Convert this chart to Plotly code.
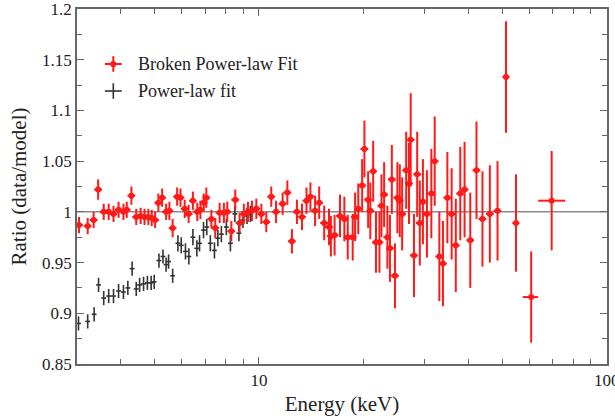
import math
import plotly.graph_objects as go

# ---------------- data ----------------
# Broken power-law fit residuals (red)
red_energy = [3.04, 3.22, 3.35, 3.45, 3.58, 3.70, 3.82, 3.95, 4.08, 4.17,
              4.30, 4.44, 4.57, 4.69, 4.81, 4.92, 5.03, 5.14, 5.27, 5.41,
              5.53, 5.65, 5.82, 5.95, 6.12, 6.28, 6.46, 6.65, 6.79, 6.94,
              7.06, 7.30, 7.49, 7.71, 7.93, 8.11, 8.33, 8.55, 8.80, 9.05,
              9.30, 9.55, 9.83, 10.16, 10.5, 10.85, 11.2, 11.7, 12.07, 12.44,
              12.86, 13.3, 13.7, 14.06, 14.5, 14.9, 15.4, 15.9, 16.1, 16.5,
              17.1, 17.6, 18.0, 18.6, 18.9, 19.3, 19.8, 20.1, 20.6, 20.9,
              21.3, 21.7, 22.2, 22.5, 22.9, 23.4, 23.8, 24.1, 24.6, 25.0,
              25.4, 25.8, 26.5, 27.0, 27.3, 27.9, 28.5, 29.0, 29.6, 30.4,
              31.3, 32.0, 33.0, 33.8, 34.8, 35.8, 36.8, 37.9, 39.0, 40.5,
              42.2, 43.9, 46.1, 48.5]
red_ratio = [0.987, 0.986, 0.992, 1.022, 1.000, 1.000, 0.998, 1.002, 1.000, 1.002,
             1.016, 0.995, 0.996, 0.995, 0.995, 0.994, 0.992, 1.009, 1.014, 1.000,
             1.001, 0.984, 1.015, 1.014, 1.003, 0.998, 1.011, 1.000, 1.002, 1.009,
             1.014, 0.993, 0.984, 0.999, 0.999, 1.000, 0.981, 1.012, 0.989, 0.998,
             1.000, 1.001, 1.003, 0.998, 0.990, 1.015, 1.000, 1.008, 1.019, 0.971,
             1.000, 0.995, 1.011, 1.015, 1.001, 1.009, 0.989, 0.985, 0.976, 0.977,
             0.996, 0.993, 0.975, 0.975, 0.995, 1.003, 1.026, 1.062, 1.012, 1.001,
             1.040, 0.970, 0.970, 1.006, 1.017, 0.975, 0.964, 1.032, 0.937, 1.014,
             1.011, 0.998, 1.041, 1.028, 1.071, 0.957, 1.037, 0.989, 1.010, 0.998,
             1.018, 1.050, 0.956, 0.949, 1.014, 0.998, 0.967, 1.018, 1.022, 0.972,
             1.041, 0.993, 0.998, 1.001]
red_err = [0.008, 0.008, 0.008, 0.010, 0.008, 0.008, 0.008, 0.008, 0.008, 0.008,
           0.009, 0.008, 0.008, 0.008, 0.008, 0.008, 0.008, 0.009, 0.009, 0.008,
           0.009, 0.009, 0.009, 0.009, 0.009, 0.009, 0.009, 0.009, 0.009, 0.009,
           0.010, 0.009, 0.010, 0.010, 0.010, 0.010, 0.010, 0.010, 0.010, 0.010,
           0.010, 0.010, 0.010, 0.010, 0.010, 0.010, 0.011, 0.011, 0.012, 0.012,
           0.012, 0.013, 0.013, 0.014, 0.015, 0.016, 0.017, 0.018, 0.020, 0.020,
           0.021, 0.022, 0.022, 0.023, 0.024, 0.025, 0.026, 0.028, 0.028, 0.028,
           0.030, 0.030, 0.030, 0.031, 0.032, 0.031, 0.033, 0.034, 0.032, 0.035,
           0.036, 0.036, 0.038, 0.040, 0.046, 0.041, 0.042, 0.042, 0.042, 0.043,
           0.044, 0.044, 0.044, 0.042, 0.045, 0.045, 0.046, 0.046, 0.047, 0.047,
           0.048, 0.047, 0.048, 0.049]

# high-energy red bins with wide energy bins
red_hi_energy = [51.3, 54.8, 60.6, 69.4]
red_hi_ratio = [1.133, 0.989, 0.916, 1.011]
red_hi_err = [0.055, 0.048, 0.045, 0.049]
red_hi_xplus = [1.2, 1.3, 2.9, 6.5]
red_hi_xminus = [1.2, 1.3, 3.3, 5.9]

# Power-law fit residuals (black)
blk_energy = [3.03, 3.22, 3.36, 3.46, 3.58, 3.70, 3.82, 3.95, 4.08, 4.20,
              4.32, 4.44, 4.54, 4.66, 4.78, 4.90, 5.00, 5.16, 5.30, 5.41,
              5.50, 5.65, 5.85, 5.98, 6.15, 6.29, 6.46, 6.63, 6.75, 6.93,
              7.08, 7.25, 7.45, 7.62, 7.80, 8.06, 8.28, 8.53, 8.76, 9.00,
              9.24, 9.45]
blk_ratio = [0.890, 0.892, 0.899, 0.928, 0.915, 0.917, 0.917, 0.922, 0.921, 0.925,
             0.944, 0.924, 0.928, 0.929, 0.930, 0.930, 0.931, 0.952, 0.956, 0.948,
             0.951, 0.937, 0.969, 0.967, 0.961, 0.956, 0.975, 0.964, 0.969, 0.982,
             0.985, 0.969, 0.962, 0.974, 0.978, 0.985, 0.969, 0.998, 0.979, 0.992,
             0.996, 0.998]
blk_err = [0.007, 0.007, 0.007, 0.007, 0.007, 0.007, 0.007, 0.007, 0.007, 0.007,
           0.007, 0.007, 0.007, 0.007, 0.007, 0.007, 0.007, 0.007, 0.007, 0.007,
           0.007, 0.007, 0.008, 0.008, 0.008, 0.008, 0.008, 0.008, 0.008, 0.008,
           0.008, 0.008, 0.008, 0.008, 0.008, 0.008, 0.008, 0.008, 0.008, 0.008,
           0.008, 0.008]

x_ticks = [10, 100]
x_minor = [4, 5, 6, 7, 8, 9, 20, 30, 40, 50, 60, 70, 80, 90]
y_ticks = [0.85, 0.9, 0.95, 1.0, 1.05, 1.1, 1.15, 1.2]
y_ticklabels = ["0.85", "0.9", "0.95", "1", "1.05", "1.1", "1.15", "1.2"]

legend_labels = ["Broken Power-law Fit", "Power-law fit"]

RED = "#ff1a1a"
BLK = "#333333"
AX = "#666666"
FONT = "Liberation Serif"

fig = go.Figure()

# reference line at ratio = 1
fig.add_hline(y=1.0, line=dict(color="#8a8a8a", width=1.5), layer="below")

fig.add_trace(go.Scatter(
    x=blk_energy, y=blk_ratio, mode="markers",
    marker=dict(size=1, color=BLK),
    error_y=dict(type="data", array=blk_err, color=BLK, thickness=1.6, width=0),
    error_x=dict(type="percent", value=1.6, color=BLK, thickness=1.6, width=0),
    showlegend=False, name=legend_labels[1]))

fig.add_trace(go.Scatter(
    x=red_energy, y=red_ratio, mode="markers",
    marker=dict(size=6, color=RED, symbol="circle"),
    error_y=dict(type="data", array=red_err, color=RED, thickness=2, width=0),
    error_x=dict(type="percent", value=2.6, color=RED, thickness=2, width=0),
    showlegend=False, name=legend_labels[0]))

fig.add_trace(go.Scatter(
    x=red_hi_energy, y=red_hi_ratio, mode="markers",
    marker=dict(size=6, color=RED, symbol="circle"),
    error_y=dict(type="data", array=red_hi_err, color=RED, thickness=2, width=0),
    error_x=dict(type="data", array=red_hi_xplus, arrayminus=red_hi_xminus,
                 symmetric=False, color=RED, thickness=2, width=0),
    showlegend=False, name=legend_labels[0]))

# manual legend (paper coordinates)
leg_items = [(0.0685, 0.845, RED, True), (0.0685, 0.769, BLK, False)]
for i, (lx, ly, col, dot) in enumerate(leg_items):
    fig.add_shape(type="line", xref="paper", yref="paper",
                  x0=lx - 0.016, x1=lx + 0.016, y0=ly, y1=ly,
                  line=dict(color=col, width=2 if dot else 1.6))
    fig.add_shape(type="line", xref="paper", yref="paper",
                  x0=lx, x1=lx, y0=ly - 0.022, y1=ly + 0.022,
                  line=dict(color=col, width=2 if dot else 1.6))
    if dot:
        fig.add_shape(type="circle", xref="paper", yref="paper",
                      x0=lx - 0.0058, x1=lx + 0.0058, y0=ly - 0.0088, y1=ly + 0.0088,
                      fillcolor=col, line=dict(color=col, width=0))
    fig.add_annotation(xref="paper", yref="paper", x=0.111, y=ly,
                       text=legend_labels[i], showarrow=False, xanchor="left",
                       yanchor="middle", font=dict(family=FONT, size=18, color="#222"))

fig.update_xaxes(
    type="log", range=[math.log10(3), 2.0004],
    tickmode="array", tickvals=x_ticks, ticktext=[str(v) for v in x_ticks],
    ticks="inside", ticklen=7, tickwidth=1.2, tickcolor=AX,
    showline=True, linecolor=AX, linewidth=1.5, mirror="ticks",
    showgrid=False, zeroline=False, automargin=False,
    ticklabeloverflow="allow",
    minor=dict(tickmode="array", tickvals=x_minor, ticks="inside", ticklen=5,
               tickwidth=1.2, tickcolor=AX, showgrid=False),
    tickfont=dict(family=FONT, size=17, color="#222"),
    title=dict(text="Energy (keV)", font=dict(family=FONT, size=21, color="#222"), standoff=8),
)
fig.update_yaxes(
    range=[0.85, 1.2],
    tickmode="array", tickvals=y_ticks, ticktext=y_ticklabels,
    ticks="inside", ticklen=7, tickwidth=1.2, tickcolor=AX,
    showline=True, linecolor=AX, linewidth=1.5, mirror="ticks",
    showgrid=False, zeroline=False, automargin=False,
    ticklabeloverflow="allow",
    minor=dict(dtick=0.025, ticks="inside", ticklen=5, tickwidth=1.2,
               tickcolor=AX, showgrid=False),
    tickfont=dict(family=FONT, size=17, color="#222"),
    title=dict(text="Ratio (data/model)", font=dict(family=FONT, size=21, color="#222"), standoff=10),
)

fig.update_layout(
    width=615, height=416,
    margin=dict(l=77, r=8, t=9, b=52),
    paper_bgcolor="white", plot_bgcolor="white",
    showlegend=False,
    font=dict(family=FONT),
)

fig.write_html("out.html")
